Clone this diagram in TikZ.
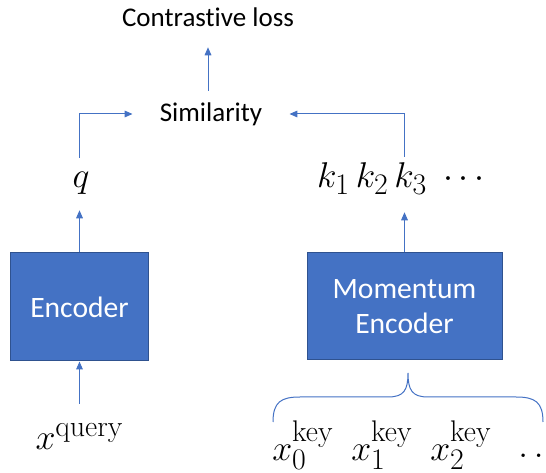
\documentclass[tikz,border=0pt]{standalone}
\usepackage{graphicx}
\usepackage[no-math]{fontspec}
\setmainfont{Carlito}[Ligatures=NoCommon]
\usetikzlibrary{arrows.meta}
\definecolor{pblue}{HTML}{4472C4}
\definecolor{pborder}{HTML}{2F528F}
\newcommand{\supsz}[1]{\mbox{\fontsize{20.74pt}{24pt}\selectfont$\mathrm{#1}$}}
\newcommand{\mymath}[1]{\scalebox{1.08}{$#1$}}
\begin{document}
\begin{tikzpicture}[x=0.75pt,y=-0.75pt,
  lbl/.style={font=\fontsize{20.25pt}{24pt}\selectfont, inner sep=0pt, text depth=0pt},
  encbox/.style={draw=pborder, line width=0.75pt, fill=pblue, text=white,
    font=\fontsize{22.2pt}{26.25pt}\selectfont, align=center, inner sep=0pt},
  mth/.style={font=\fontsize{24.88pt}{29pt}\selectfont, inner sep=0pt},
  arr/.style={draw=pblue, line width=0.75pt, -{Triangle[length=6pt,width=5pt]}},
  bracestyle/.style={draw=pblue, line width=0.75pt}]
\useasboundingbox (0,0) rectangle (546,473);

\node[lbl, anchor=base, text depth=15pt] (loss) at (208,27) {Contrastive loss};
\node[lbl, anchor=base, text height=23.25pt, text depth=11.25pt, inner xsep=20.25pt] (sim) at (211,122) {Similarity};

\node[mth, anchor=base, text height=22.5pt, text depth=16.5pt] (q) at (81,188) {\mymath{q}};
\node[mth, anchor=base, text height=23.25pt, text depth=18pt] (k) at (401,188) {\mymath{k_1\,k_2\,k_3\;\cdots}};

\node[encbox, minimum width=103.5pt, minimum height=81pt] (enc) at (79.5,307) {Encoder};
\node[encbox, minimum width=146.25pt, minimum height=80.25pt] (mom) at (404.5,306.5) {Momentum\\Encoder};

\node[mth, anchor=base, text height=34.5pt] (xq) at (79.5,450) {\mymath{x^{\supsz{query}}}};

\node[mth, anchor=base west] (k0) at (272,460) {\mymath{x^{\supsz{key}}_{0}}};
\node[mth, anchor=base west] (k1) at (351,460) {\mymath{x^{\supsz{key}}_{1}}};
\node[mth, anchor=base west] (k2) at (430,460) {\mymath{x^{\supsz{key}}_{2}}};
\node[mth, anchor=base west] (kd) at (518,458) {\mymath{\dots}};

\coordinate (bl) at (273,422);
\coordinate (br) at (543,422);
\coordinate (bt) at (408,373);
\draw[bracestyle] (bl) .. controls (273,402) and (281,397) .. (300,397) -- (388,397)
  .. controls (404,397) and (408,390) .. (bt)
  .. controls (408,390) and (412,397) .. (428,397) -- (516,397)
  .. controls (535,397) and (543,402) .. (br);

\draw[arr] (loss.south |- sim.north) -- (loss.south);
\draw[arr] (q.north -| enc.north) |- (sim.west);
\draw[arr] (k.north -| mom.north) |- (sim.east);
\draw[arr] (enc.north) -- (enc.north |- q.south);
\draw[arr] (mom.north) -- (mom.north |- k.south);
\draw[arr] (xq.north) -- (enc.south);
\end{tikzpicture}
\end{document}
